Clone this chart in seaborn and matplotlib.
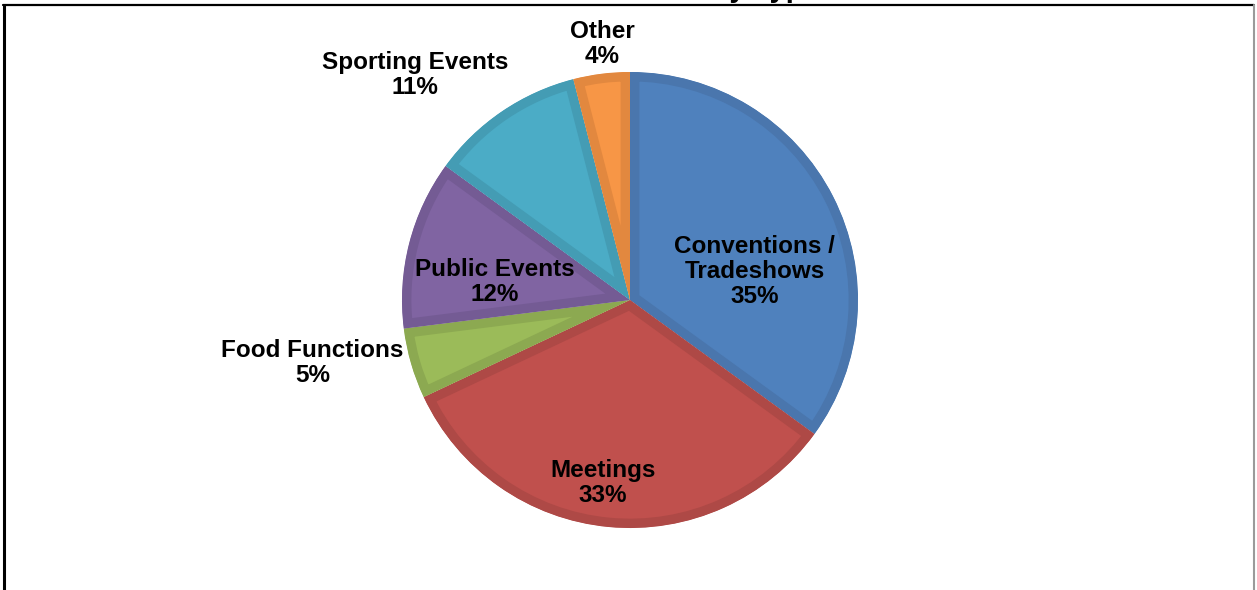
import matplotlib
matplotlib.use("Agg")
import matplotlib.pyplot as plt
from matplotlib.lines import Line2D
import numpy as np
import seaborn as sns

# ---- data ----
categories = ["Conventions /\nTradeshows", "Meetings", "Food Functions",
              "Public Events", "Sporting Events", "Other"]
shares = [35, 33, 5, 12, 11, 4]
title_text = "Attendance by Type"

# ---- style ----
face_colors = ["#4F81BD", "#C0504D", "#9BBB59", "#8064A2", "#4BACC6", "#F79646"]
edge_colors = ["#4A76AD", "#AE4946", "#8CA951", "#745B94", "#449CB4", "#E2883F"]
# label placement: (radius factor, angle offset in degrees from wedge mid-angle)
label_layout = [(0.56, -14), (0.81, -3), (1.42, -5), (0.60, 7), (1.365, 9.5), (1.13, -1)]

sns.set_theme(style="white")
plt.rcParams["font.family"] = ["Liberation Sans", "DejaVu Sans"]

W, H, DPI = 1257, 590, 100
fig = plt.figure(figsize=(W / DPI, H / DPI), dpi=DPI)
fig.patch.set_facecolor("white")

cx, cy, R = 630, 300, 228  # pixel geometry of the pie
ax = fig.add_axes([0, 0, 1, 1])

wedges, _ = ax.pie(shares, startangle=90, counterclock=False, radius=1.0,
                   colors=face_colors,
                   wedgeprops=dict(linewidth=13.5, joinstyle="miter"))

ax.set_xlim(-cx / R, (W - cx) / R)
ax.set_ylim(-(H - cy) / R, cy / R)
ax.set_aspect("equal")
ax.axis("off")

for w, ec in zip(wedges, edge_colors):
    w.set_edgecolor(ec)
    # keep the border inside each slice
    w.set_clip_on(True)
    w.set_clip_path(w.get_path(), w.get_transform())

total = sum(shares)
cum = 0
for lab, val, (rf, dang) in zip(categories, shares, label_layout):
    mid = 90 - (cum + val / 2) / total * 360
    cum += val
    a = np.deg2rad(mid + dang)
    ax.text(rf * np.cos(a), rf * np.sin(a), f"{lab}\n{val}%",
            ha="center", va="center", fontsize=17.5, fontweight="bold",
            color="black", linespacing=1.1)

# title mostly above the visible area (only descenders show, as in the reference)
fig.text(0.543, 1.0048, title_text, ha="center", va="baseline",
         fontsize=21, fontweight="bold", color="black")

# frame
fig.add_artist(Line2D([3.5 / W, 3.5 / W], [0, 1 - 5 / H], color="black", lw=2.2,
                      transform=fig.transFigure))
fig.add_artist(Line2D([3 / W, 1254 / W], [1 - 5 / H, 1 - 5 / H], color="black", lw=1.6,
                      transform=fig.transFigure))
fig.add_artist(Line2D([1254 / W, 1254 / W], [0, 1 - 5 / H], color="#9a9a9a", lw=1.5,
                      transform=fig.transFigure))

fig.savefig("out.png", dpi=DPI)
